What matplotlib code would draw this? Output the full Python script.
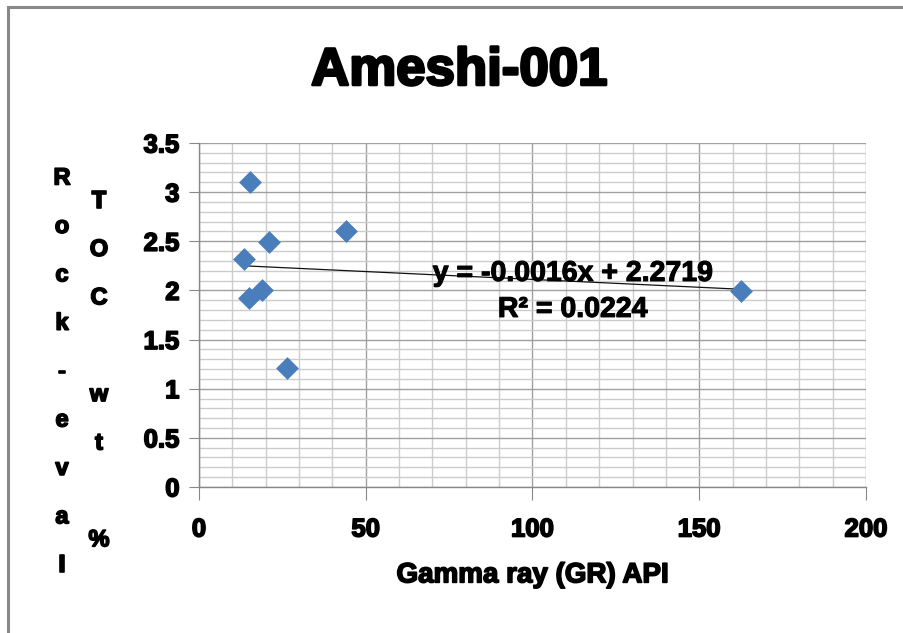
import numpy as np
import matplotlib.pyplot as plt
import matplotlib.patheffects as pe
from matplotlib.ticker import MultipleLocator
from matplotlib.patches import Rectangle

# data
gamma_ray = [15.3, 44.0, 21.0, 13.5, 18.9, 15.0, 26.4, 162.5]
toc = [3.10, 2.60, 2.49, 2.32, 2.00, 1.92, 1.21, 1.99]
slope, intercept = -0.0016, 2.2719
r2 = 0.0224

title = 'Ameshi-001'
xlabel = 'Gamma ray (GR) API'
ylabel_outer = 'Rock-eval'
ylabel_inner = 'TOC wt %'

fam = ['Liberation Sans', 'DejaVu Sans']
heavy = [pe.withStroke(linewidth=1.2, foreground='black')]

fig = plt.figure(figsize=(9.04, 6.33), dpi=100)
ax = fig.add_axes([0.2201, 0.2307, 0.7378, 0.5434])

# outer chart frame
fig.patches.append(Rectangle((7.5 / 904, -0.01), 1.0, (633 - 7) / 633 + 0.01,
                             transform=fig.transFigure, fill=False,
                             edgecolor='#888888', linewidth=2.2))

ax.scatter(gamma_ray, toc, marker='D', s=135, color='#4a7ebb', zorder=3, linewidths=0)

xs = np.array([min(gamma_ray), max(gamma_ray)])
ax.plot(xs, slope * xs + intercept, color='#111111', linewidth=0.9, zorder=2)

ax.text(112, 1.985, f'y = {slope}x + {intercept}\nR² = {r2}', ha='center', va='center',
        fontsize=20.5, fontweight='bold', family=fam, linespacing=1.5, zorder=4,
        path_effects=[pe.withStroke(linewidth=0.8, foreground='black')])

ax.set_xlim(0, 200)
ax.set_ylim(0, 3.5)
ax.xaxis.set_major_locator(MultipleLocator(50))
ax.xaxis.set_minor_locator(MultipleLocator(10))
ax.yaxis.set_minor_locator(MultipleLocator(0.1))
ax.set_yticks(np.arange(0, 3.51, 0.5))
ax.set_yticklabels(['0', '0.5', '1', '1.5', '2', '2.5', '3', '3.5'])

ax.grid(which='major', color='#a0a0a0', linewidth=1.0)
ax.grid(which='minor', color='#cccccc', linewidth=1.0)
ax.set_axisbelow(True)

for s in ['top', 'right']:
    ax.spines[s].set_visible(False)
for s in ['left', 'bottom']:
    ax.spines[s].set_color('#888888')
    ax.spines[s].set_linewidth(1.0)

ax.tick_params(which='minor', length=0)
ax.tick_params(axis='x', which='major', length=9, color='#888888', pad=13, direction='out')
ax.tick_params(axis='y', which='major', length=7, color='#888888', pad=7, direction='out')
for lab in ax.get_xticklabels() + ax.get_yticklabels():
    lab.set_fontfamily(fam)
    lab.set_fontweight('bold')
    lab.set_fontsize(18.5)
    lab.set_path_effects(heavy)

ax.set_xlabel(xlabel, fontsize=20, fontweight='bold', family=fam, labelpad=15,
              path_effects=heavy)

fig.text(0.508, 0.888, title, ha='center', va='center', fontsize=38,
         fontweight='bold', family=fam,
         path_effects=[pe.withStroke(linewidth=2.0, foreground='black')])

# stacked vertical axis titles, one letter per row
step = 48.4 / 633
for i, ch in enumerate(ylabel_outer):
    fig.text(62 / 904, 1 - 178 / 633 - i * step, ch, ha='center', va='center',
             fontsize=17, fontweight='bold', family=fam, path_effects=heavy)
for i, ch in enumerate(ylabel_inner):
    fig.text(99 / 904, 1 - 201 / 633 - i * step, ch, ha='center', va='center',
             fontsize=17, fontweight='bold', family=fam, path_effects=heavy)

fig.savefig('out.png', dpi=100)
